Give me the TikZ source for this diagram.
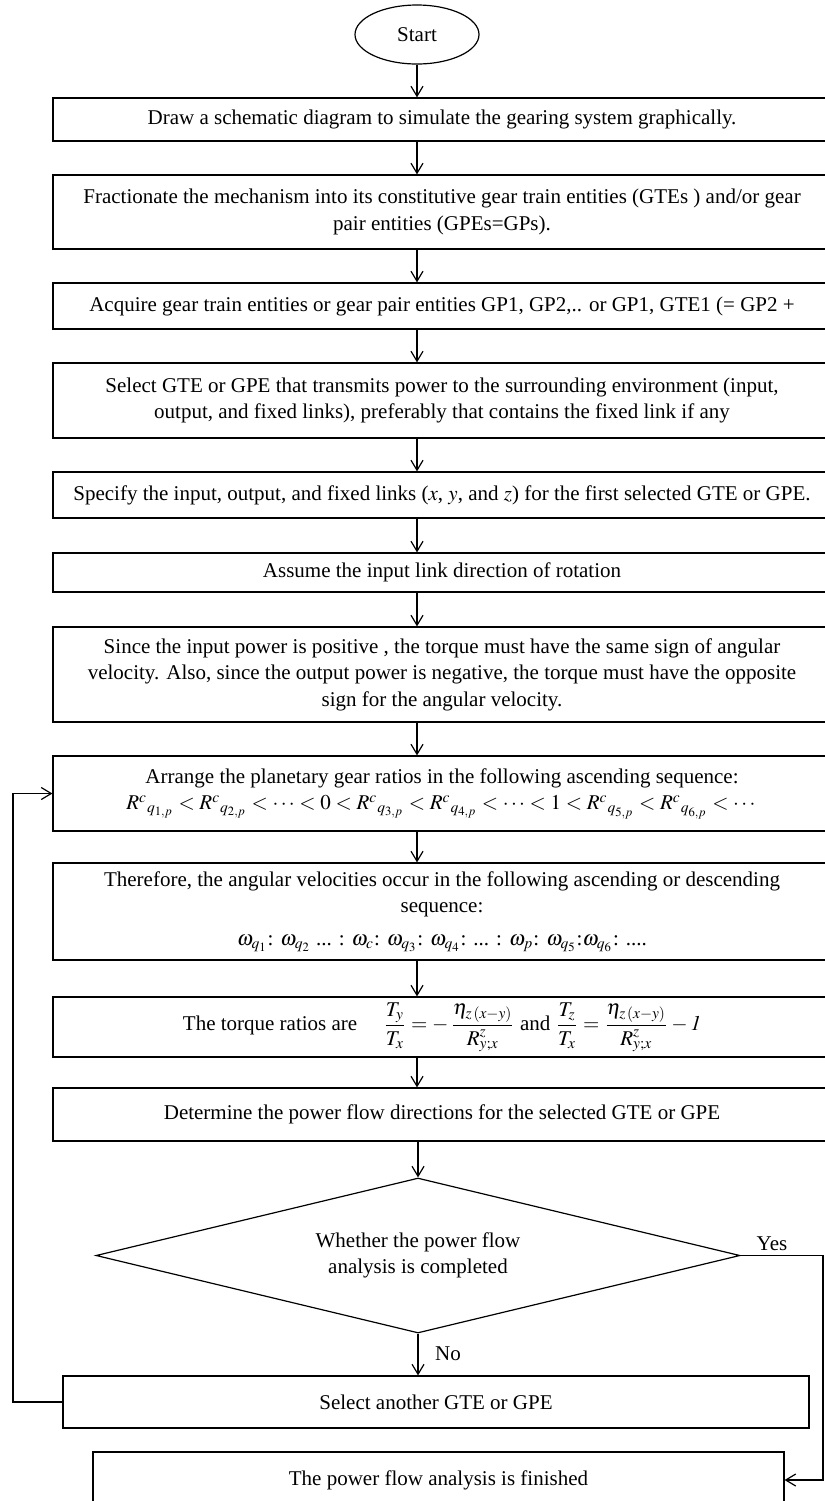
\documentclass[tikz,border=0pt]{standalone}
\usepackage{amsmath}
\usepackage{mathptmx}
\usepackage{fontspec}
\setmainfont{Liberation Serif}
\usetikzlibrary{shapes.geometric,arrows.meta}
\tikzset{
  flowbox/.style={draw, rectangle, align=center, minimum width=389pt, inner sep=0pt},
  flowarrow/.style={-{Straight Barb[length=5pt,width=6pt]}},
}
\begin{document}
\begin{tikzpicture}[x=0.5pt, y=-0.5pt, line width=0.6pt, font=\fontsize{10.5}{13.25}\selectfont]
			\useasboundingbox (0,0) rectangle (825,1501);
			% Nodes
			\node[draw, ellipse, minimum width=62pt, minimum height=29.5pt, inner sep=0pt] (start) at (417,34.5) {Start};   % Top
			\node[flowbox, minimum height=21.5pt] (draw) at (442,119.5) {Draw a schematic diagram to simulate the gearing system graphically.};
			\node[flowbox, minimum height=37pt] (fract) at (442,212) {Fractionate the mechanism into its constitutive gear train entities (GTEs ) and/or gear\\ pair entities (GPEs=GPs).};
			\node[flowbox, minimum height=23pt] (acq) at (442,306) {Acquire gear train entities or gear pair entities GP1, GP2,.. or GP1, GTE1 (= GP2 +};
			\node[flowbox, minimum height=37.5pt] (sel1) at (442,400.5) {Select GTE or GPE that transmits power to the surrounding environment (input,\\ output, and fixed links), preferably that contains the fixed link if any};
			\node[flowbox, minimum height=23pt] (spec) at (442,495) {Specify the input, output, and fixed links ($x$, $y$, and $z$) for the first selected GTE or GPE.};
			\node[flowbox, minimum height=19.5pt] (assume) at (442,572.5) {Assume the input link direction of rotation};
			\node[flowbox, minimum height=47.5pt] (since) at (442,674.5) {Since the input power is positive , the torque must have the same sign of angular\\ velocity. Also, since the output power is negative, the torque must have the opposite\\ sign for the angular velocity.};
			\node[flowbox, minimum height=37.5pt] (arrange) at (442,793.5) {Arrange the planetary gear ratios in the following ascending sequence:\\ $R^{c}{}_{q_{1,p}} < R^{c}{}_{q_{2,p}} < \cdots < 0 < R^{c}{}_{q_{3,p}} < R^{c}{}_{q_{4,p}} < \cdots < 1 < R^{c}{}_{q_{5,p}} < R^{c}{}_{q_{6,p}} < \cdots$};
			\node[flowbox, minimum height=48.5pt] (velo) at (442,911.5) {Therefore, the angular velocities occur in the following ascending or descending\\ sequence:\\[3pt] $\omega_{q_1}$: $\omega_{q_2}$ ... : $\omega_c$: $\omega_{q_3}$: $\omega_{q_4}$: ... : $\omega_p$: $\omega_{q_5}$:$\omega_{q_6}$: ....};
			\node[flowbox, minimum height=30pt] (torque) at (442,1027) {The torque ratios are \quad $\dfrac{T_y}{T_x} = -\,\dfrac{\eta_{z\,(x-y)}}{R^{z}_{y;x}}$ and $\dfrac{T_z}{T_x} = \dfrac{\eta_{z\,(x-y)}}{R^{z}_{y;x}} - \mathit{1}$};
			\node[flowbox, minimum height=26.5pt] (flow) at (442,1114.5) {Determine the power flow directions for the selected GTE or GPE};
			\node[draw, diamond, aspect=4.15, align=center, minimum width=322pt, minimum height=77.5pt, inner sep=0pt] (done) at (418,1255.5) {Whether the power flow\\ analysis is completed};
			\node[flowbox, minimum width=373pt, minimum height=26pt] (other) at (436,1402) {Select another GTE or GPE};
			\node[flowbox, minimum width=345.5pt, minimum height=28pt] (fin) at (438.5,1480) {The power flow analysis is finished};
			\node (yes) at (772,1244) {Yes};
			\node (no) at (448,1354) {No};
			\coordinate (loopx) at (13,0);
			\coordinate (rightx) at (823,0);

			% Edges
			\draw[flowarrow] (start) -- (start |- draw.north);
			\draw[flowarrow] (start |- draw.south) -- (start |- fract.north);
			\draw[flowarrow] (start |- fract.south) -- (start |- acq.north);
			\draw[flowarrow] (start |- acq.south) -- (start |- sel1.north);
			\draw[flowarrow] (start |- sel1.south) -- (start |- spec.north);
			\draw[flowarrow] (start |- spec.south) -- (start |- assume.north);
			\draw[flowarrow] (start |- assume.south) -- (start |- since.north);
			\draw[flowarrow] (start |- since.south) -- (start |- arrange.north);
			\draw[flowarrow] (start |- arrange.south) -- (start |- velo.north);
			\draw[flowarrow] (start |- velo.south) -- (start |- torque.north);
			\draw[flowarrow] (start |- torque.south) -- (start |- flow.north);
			\draw[flowarrow] (done.north |- flow.south) -- (done.north);
			\draw[flowarrow] (done.south) -- (done.south |- other.north);
			\draw[flowarrow] (done.east) -| (rightx |- fin.east) -- (fin.east);
			\draw[flowarrow] (other.west) -- (other.west -| loopx) -- (loopx |- arrange.west) -- (arrange.west);
		\end{tikzpicture}
\end{document}
